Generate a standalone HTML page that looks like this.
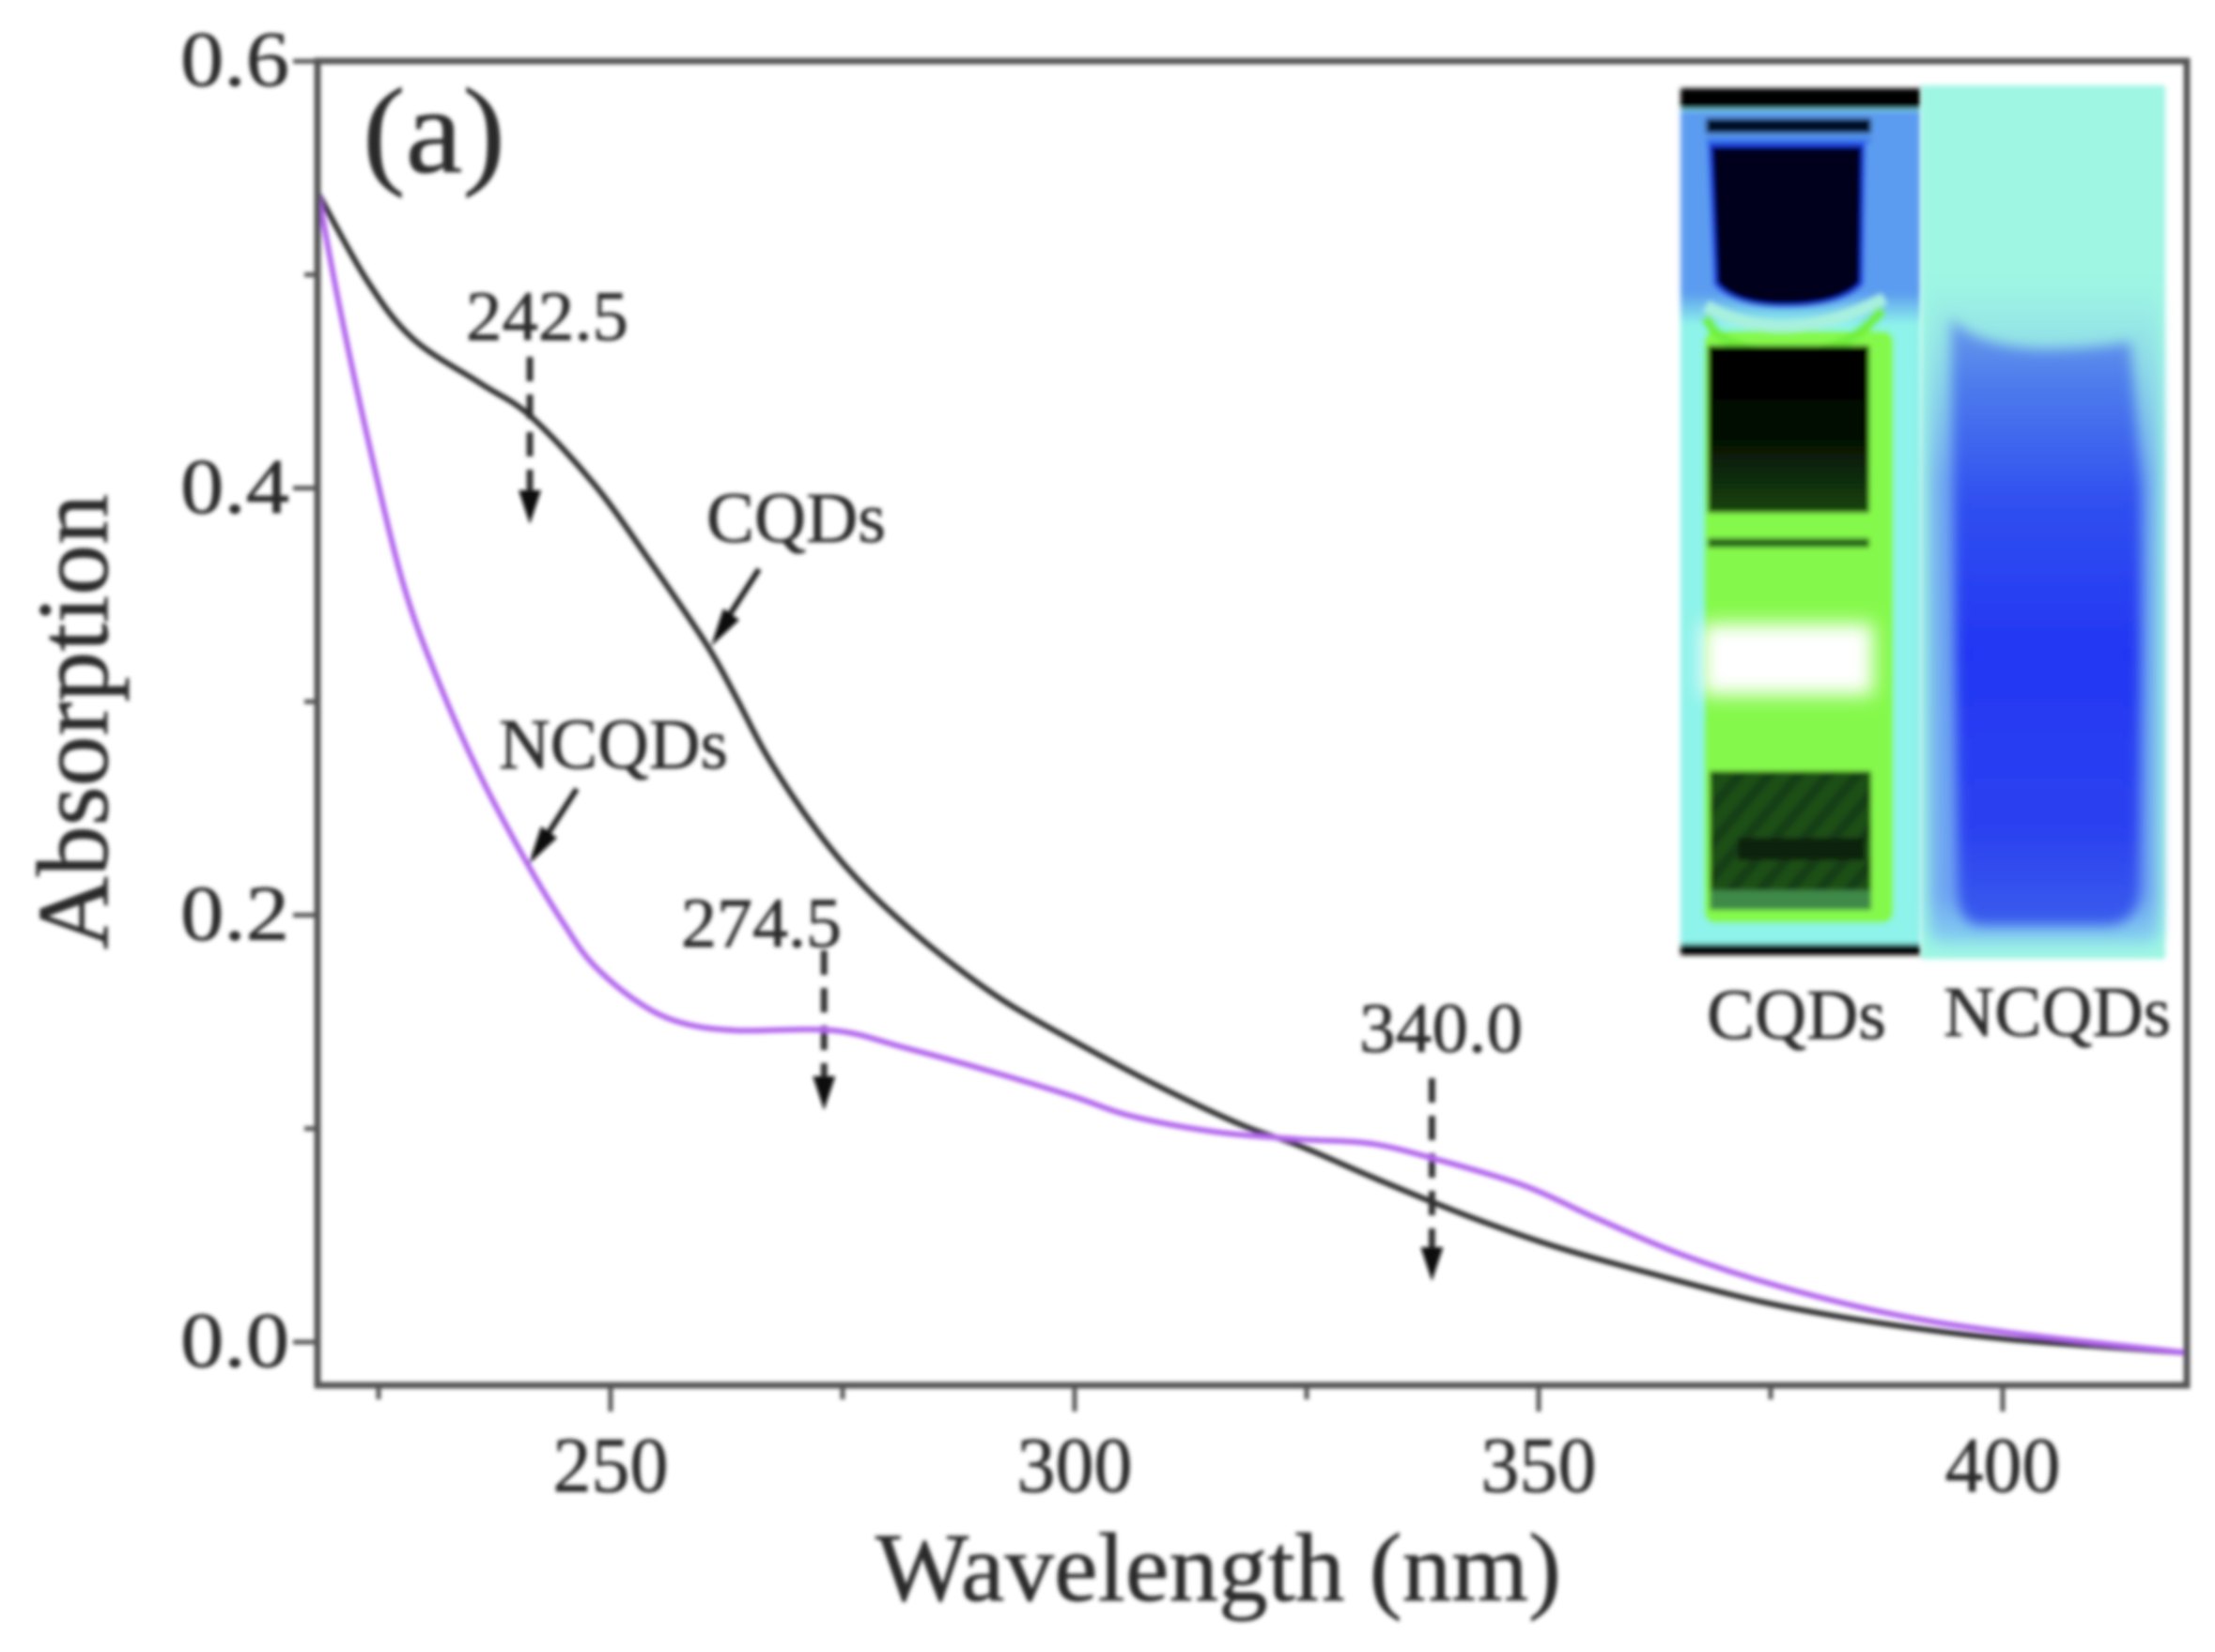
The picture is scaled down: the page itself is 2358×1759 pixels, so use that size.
<!DOCTYPE html>
<html lang="en">
<head>
<meta charset="utf-8">
<title>Absorption spectra of CQDs and NCQDs</title>
<style>
html,body{margin:0;padding:0;background:#fff;width:2358px;height:1759px;overflow:hidden}
svg{display:block}
text{font-family:"Liberation Serif",serif;fill:#2c2c2c;stroke:#2c2c2c;stroke-width:0.7px}
</style>
</head>
<body>
<svg id="chart" xmlns="http://www.w3.org/2000/svg" width="2358" height="1759" viewBox="0 0 2358 1759">
  <defs>
    <filter id="soft" filterUnits="userSpaceOnUse" x="0" y="0" width="2358" height="1759"><feGaussianBlur stdDeviation="2"/></filter>
    <filter id="softInset" filterUnits="userSpaceOnUse" x="1700" y="0" width="658" height="1100"><feGaussianBlur stdDeviation="3"/></filter>
    <filter id="softWide" filterUnits="userSpaceOnUse" x="1700" y="0" width="658" height="1100"><feGaussianBlur stdDeviation="8"/></filter>
    <filter id="softBand" filterUnits="userSpaceOnUse" x="1700" y="0" width="658" height="1100"><feGaussianBlur stdDeviation="7"/></filter>
    <filter id="softWhite" filterUnits="userSpaceOnUse" x="1700" y="0" width="658" height="1100"><feGaussianBlur stdDeviation="10"/></filter>
    <linearGradient id="blueCore" x1="0" y1="0" x2="0" y2="1">
      <stop offset="0" stop-color="#6a9cea"/>
      <stop offset="0.1" stop-color="#4f7eec"/>
      <stop offset="0.3" stop-color="#3050f0"/>
      <stop offset="0.55" stop-color="#2236f3"/>
      <stop offset="0.85" stop-color="#2b42f0"/>
      <stop offset="1" stop-color="#3a5cec"/>
    </linearGradient>
    <linearGradient id="ringFade" x1="0" y1="0" x2="0" y2="1">
      <stop offset="0" stop-color="#7db8f0" stop-opacity="0"/>
      <stop offset="0.3" stop-color="#72aaf0" stop-opacity="1"/>
      <stop offset="0.93" stop-color="#6fa6f2" stop-opacity="1"/>
      <stop offset="1" stop-color="#86d2f0" stop-opacity="1"/>
    </linearGradient>
    <linearGradient id="sideFade" x1="0" y1="0" x2="0" y2="1">
      <stop offset="0" stop-color="#5c9cf0"/>
      <stop offset="0.85" stop-color="#5c9cf0"/>
      <stop offset="1" stop-color="#8ef3ea"/>
    </linearGradient>
    <linearGradient id="darkUpper" x1="0" y1="0" x2="0" y2="1">
      <stop offset="0" stop-color="#000"/>
      <stop offset="0.5" stop-color="#020a02"/>
      <stop offset="1" stop-color="#184411"/>
    </linearGradient>
    <pattern id="hatch" patternUnits="userSpaceOnUse" width="24" height="24" patternTransform="rotate(40)">
      <rect width="24" height="24" fill="#1c5019"/>
      <rect width="10" height="24" fill="#143c13"/>
    </pattern>
  </defs>

  <g id="inset">
    <g filter="url(#softInset)">
      <rect x="1789" y="94" width="256" height="923" fill="#8ef3ea"/>
      <rect x="1789" y="118" width="256" height="228" fill="url(#sideFade)"/>
      <rect x="1789" y="94" width="256" height="22" fill="#050505"/>
      <rect x="1816" y="126" width="176" height="16" fill="#000c28"/>
      <rect x="1816" y="147" width="176" height="5" fill="#3b78ea"/>
      <path d="M1820 154H1984L1982 302Q1960 326 1900 326Q1846 326 1826 302Z" fill="#00001a" stroke="#1a3de8" stroke-width="4"/>
      <rect x="1814" y="352" width="202" height="631" rx="12" fill="#85f94b"/>
      <path d="M1816 326Q1900 372 2006 318" fill="none" stroke="#a8f0de" stroke-width="13"/>
      <path d="M1816 338Q1830 372 1900 378Q1965 378 2004 330" fill="none" stroke="#72f03c" stroke-width="11"/>
      <rect x="1818" y="368" width="172" height="178" fill="url(#darkUpper)"/>
      <rect x="1818" y="573" width="172" height="10" fill="#24601c"/>
      <rect x="1820" y="821" width="172" height="148" fill="url(#hatch)"/>
      <rect x="1850" y="892" width="135" height="24" fill="#082408"/>
      <rect x="1820" y="948" width="172" height="21" fill="#3f8a48"/>
      <rect x="1789" y="1005" width="256" height="12" fill="#060606"/>
    </g>
    <rect x="1812" y="664" width="182" height="76" fill="#ffffff" filter="url(#softWhite)"/>
    <g>
      <rect x="2045" y="91" width="260" height="930" fill="#9ef6e3" filter="url(#softInset)"/>
      <path d="M2054 300H2298V990Q2298 1004 2283 1004H2069Q2054 1004 2054 990Z" fill="url(#ringFade)" filter="url(#softWide)"/>
      <path d="M2077 338Q2100 368 2170 372Q2230 372 2268 364L2280 520L2278 950Q2274 983 2244 985H2110Q2086 985 2084 950Z" fill="url(#blueCore)" filter="url(#softBand)"/>
    </g>
  </g>

  <g id="plot" filter="url(#soft)"></g>
</svg>

<script>
const wavelengths1 = [218.5,223.8,228.7,236,241.3,248.2,254.2,260.3,263.4,266.4,269.4,272.5,275.5,279.3,285.4,292.3,299.9,309,318.1,324.2,333.3,342.4,351.6,362.2,374.4,386.6,400.3,419.8];
const cqdsValues = [0.538,0.497,0.470,0.449,0.434,0.402,0.366,0.327,0.303,0.278,0.257,0.238,0.222,0.205,0.182,0.160,0.141,0.120,0.1015,0.092,0.075,0.059,0.045,0.032,0.0185,0.009,0.0015,-0.005];
const wavelengths2 = [218.5,220.7,223.8,227.6,231.4,236,241.3,245.1,248.1,252.7,257.3,263.4,274,281.6,290.8,299.9,306,315.1,324.2,331.9,339.5,348.6,356.2,365.4,376,388.2,400.4,419.8];
const ncqdsValues = [0.538,0.487,0.424,0.356,0.310,0.265,0.222,0.195,0.177,0.160,0.150,0.146,0.146,0.138,0.127,0.115,0.106,0.0985,0.095,0.093,0.085,0.073,0.058,0.041,0.026,0.013,0.0046,-0.005];
const xMajorTicks = [250,300,350,400];
const xMinorTicks = [225,275,325,375];
const yMajorTicks = [0,0.2,0.4,0.6];
const yMinorTicks = [0.1,0.3,0.5];
const peakLabels = ["242.5","274.5","340.0"];
const peakArrowWavelengths = [241.3,273,338.5];

const NS = 'http://www.w3.org/2000/svg';
const plot = document.getElementById('plot');
const PL = 338, PR = 2328, PT = 65, PB = 1475;
const sx = w => 650 + (w - 250) * 9.88;
const sy = v => 1429 - v * 2273;

function el(tag, attrs, parent) {
  const n = document.createElementNS(NS, tag);
  for (const k in attrs) n.setAttribute(k, attrs[k]);
  (parent || plot).appendChild(n);
  return n;
}
function label(str, x, y, size, anchor, width) {
  const attrs = { x: x, y: y, 'font-size': size, 'text-anchor': anchor };
  if (width) { attrs.textLength = width; attrs.lengthAdjust = 'spacingAndGlyphs'; }
  const t = el('text', attrs);
  t.textContent = str;
  return t;
}
function smooth(xs, ys) {
  const p = xs.map((x, i) => [sx(x), sy(ys[i])]);
  let d = 'M' + p[0][0] + ' ' + p[0][1];
  for (let i = 0; i < p.length - 1; i++) {
    const a = p[Math.max(i - 1, 0)], b = p[i], c = p[i + 1], e = p[Math.min(i + 2, p.length - 1)];
    d += 'C' + (b[0] + (c[0] - a[0]) / 6) + ' ' + (b[1] + (c[1] - a[1]) / 6) + ' ' +
         (c[0] - (e[0] - b[0]) / 6) + ' ' + (c[1] - (e[1] - b[1]) / 6) + ' ' + c[0] + ' ' + c[1];
  }
  return d;
}

/* ticks */
xMajorTicks.forEach(t => {
  const tick = el('line', { x1: sx(t), x2: sx(t), y1: PB, y2: PB + 28, stroke: '#555', 'stroke-width': 5 });
  
  
  const lab = label(String(t), sx(t), 1588, 84, 'middle', 123);
  
  
});
xMinorTicks.forEach(t => {
  const tick = el('line', { x1: sx(t), x2: sx(t), y1: PB, y2: PB + 15, stroke: '#555', 'stroke-width': 5 });
  
  
});
yMajorTicks.forEach(t => {
  const tick = el('line', { x1: PL - 26, x2: PL, y1: sy(t), y2: sy(t), stroke: '#555', 'stroke-width': 5 });
  
  
  const lab = label(t.toFixed(1), 308, sy(t) + 26, 84, 'end', 116);
  
  
});
yMinorTicks.forEach(t => {
  const tick = el('line', { x1: PL - 14, x2: PL, y1: sy(t), y2: sy(t), stroke: '#555', 'stroke-width': 5 });
  
  
});

/* dashed peak arrows */
const arrowTop = [380, 1012, 1148];
const arrowEnd = [558, 1182, 1364];
const labelBox = [[496,362,173],[725,1008,171],[1447,1120,174]];
peakLabels.forEach((s, i) => {
  const lab = label(s, labelBox[i][0], labelBox[i][1], 75, 'start', labelBox[i][2]);
  
  
  const x = sx(peakArrowWavelengths[i]);
  const shaft = el('line', { x1: x, x2: x, y1: arrowTop[i], y2: arrowEnd[i] - 28, stroke: '#333', 'stroke-width': 7, 'stroke-dasharray': '26 14' });
  
  
  const head = el('path', { d: 'M' + (x - 12) + ' ' + (arrowEnd[i] - 36) + 'L' + (x + 12) + ' ' + (arrowEnd[i] - 36) + 'L' + x + ' ' + arrowEnd[i] + 'Z', fill: '#111' });
  
  
});

/* series */
const cqdsLine = el('path', { d: smooth(wavelengths1, cqdsValues), fill: 'none', stroke: '#2f2f2f', 'stroke-width': 6, 'stroke-linejoin': 'round' });


const ncqdsLine = el('path', { d: smooth(wavelengths2, ncqdsValues), fill: 'none', stroke: '#b366ee', 'stroke-width': 6, 'stroke-linejoin': 'round' });



/* frame */
const frame = el('rect', { x: PL, y: PT, width: PR - PL, height: PB - PT, fill: 'none', stroke: '#555', 'stroke-width': 7 });



/* solid series arrows */
const cqdsArrow = el('path', { d: 'M808 606L770 665', stroke: '#222', 'stroke-width': 6, fill: 'none' });


const cqdsHead = el('path', { d: 'M757 688L770 648L787 660Z', fill: '#111' });


const ncqdsArrow = el('path', { d: 'M614 840L578 896', stroke: '#222', 'stroke-width': 6, fill: 'none' });


const ncqdsHead = el('path', { d: 'M563 920L576 880L593 892Z', fill: '#111' });



/* labels */
const xTitle = label('Wavelength (nm)', 932, 1704, 104, 'start', 730);


const yTitle = label('Absorption', 0, 0, 108, 'start', 485);
yTitle.setAttribute('transform', 'translate(114 1011) rotate(-90)');


const panel = label('(a)', 386, 183, 130, 'start', 152);


const cqdsLabel = label('CQDs', 752, 577, 76, 'start', 191);


const ncqdsLabel = label('NCQDs', 531, 818, 76, 'start', 244);


const insetCqds = label('CQDs', 1817, 1106, 76, 'start', 191);


const insetNcqds = label('NCQDs', 2069, 1103, 76, 'start', 242);


</script>
</body>
</html>
